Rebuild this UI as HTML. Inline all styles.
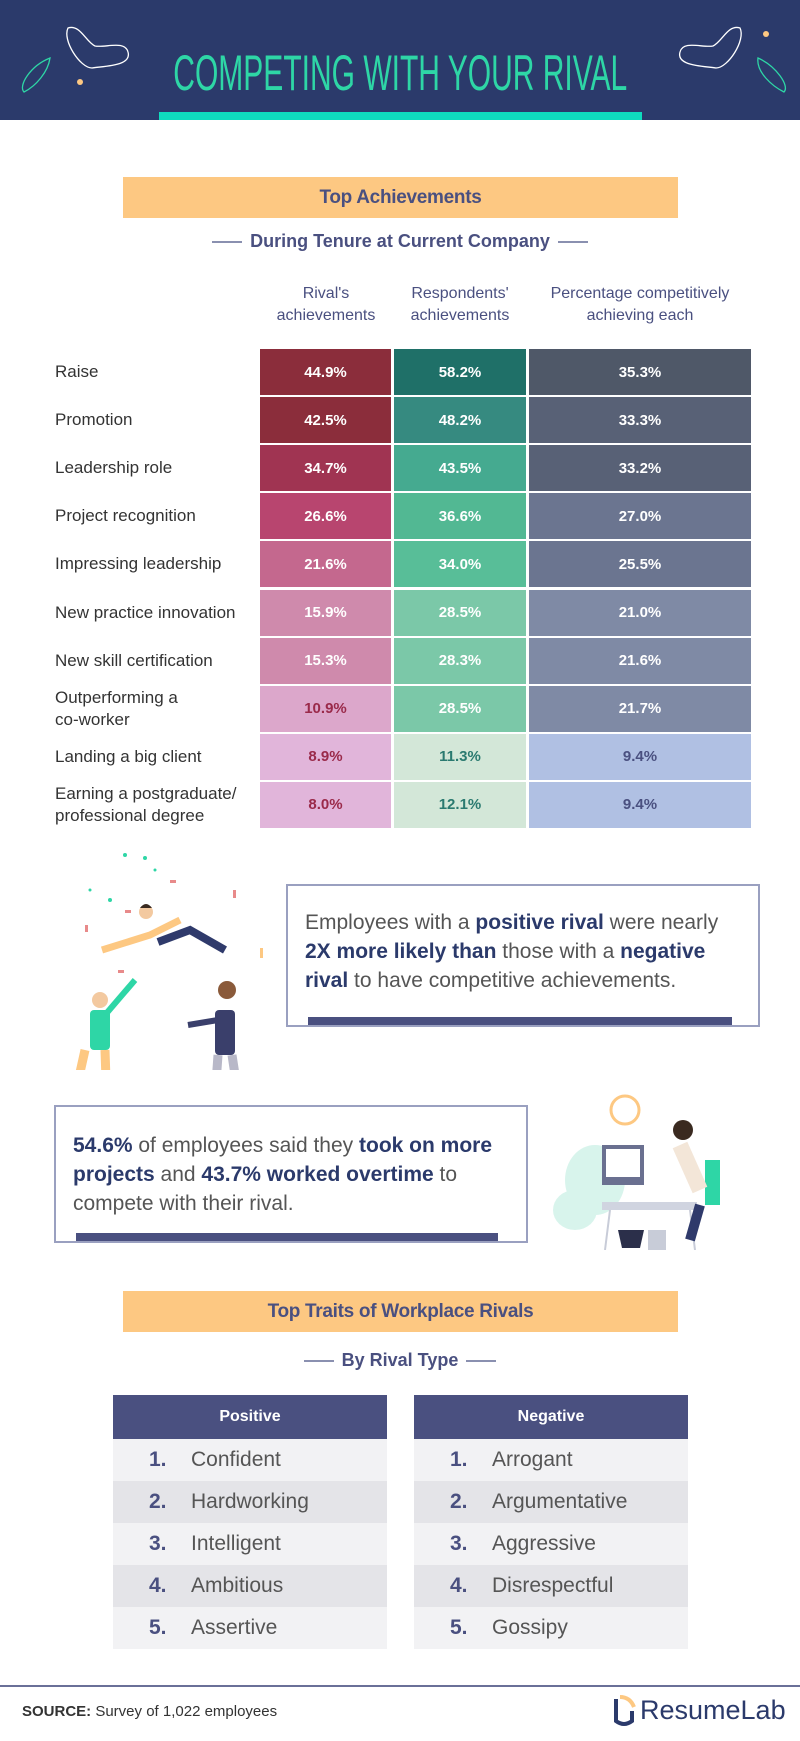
<!DOCTYPE html>
<html><head><meta charset="utf-8">
<style>
*{margin:0;padding:0;box-sizing:border-box}
body{width:800px;height:1741px;background:#fff;font-family:"Liberation Sans",sans-serif;position:relative;overflow:hidden;color:#4a4f62}
.abs{position:absolute}
.banner{background:#fdc882;color:#4a5080;font-weight:bold;font-size:19px;text-align:center;letter-spacing:-0.3px}
.sub{color:#4a5080;font-weight:bold;font-size:18px;text-align:center;width:800px;left:0}
.cell{position:absolute;display:flex;align-items:center;justify-content:center;font-weight:bold;font-size:15px;color:#fff}
.lbl{position:absolute;left:55px;font-size:17px;color:#333;line-height:22px;display:flex;align-items:center}
.colh{position:absolute;font-size:16px;color:#4a5080;text-align:center;line-height:22px}
.box{border:2px solid #9aa0c0;background:#fff}
.box p{font-size:21px;line-height:29px;color:#555}
.box b{color:#2b3a6b}
.bar{background:#4a5080;height:8px}
.th{background:#4a5080;color:#fff;font-weight:bold;font-size:16px;text-align:center;line-height:44px}
.tr{height:42px;display:flex;align-items:center;font-size:21px;color:#555}
.tr .n{width:42px;color:#4a5080;font-weight:bold;text-align:left}
</style></head><body>

<div class="abs" style="left:0;top:0;width:800px;height:120px;background:#2b3a6b"></div>
<svg class="abs" style="left:0;top:0" width="800" height="120">
<path d="M68 28 C80 24 86 42 95 46 C105 48 125 40 128 52 C132 66 105 66 92 68 C80 68 62 40 68 28Z" fill="none" stroke="#fff" stroke-width="1.3"/>
<path d="M50 58 C30 66 18 86 24 92 C36 86 48 72 50 58Z" fill="none" stroke="#2ed6a6" stroke-width="1.3"/>
<circle cx="80" cy="82" r="3" fill="#fdc882"/>
<path d="M740 28 C728 24 722 42 713 46 C703 48 683 40 680 52 C676 66 703 66 716 68 C728 68 746 40 740 28Z" fill="none" stroke="#fff" stroke-width="1.3"/>
<path d="M758 58 C776 66 790 86 784 92 C772 86 756 72 758 58Z" fill="none" stroke="#2ed6a6" stroke-width="1.3"/>
<circle cx="766" cy="34" r="3" fill="#fdc882"/>
</svg>
<div class="abs" style="left:0;top:48px;width:800px;text-align:center;color:#2ed6a6;font-size:50px;line-height:50px"><span style="display:inline-block;transform:scaleX(0.6)">COMPETING WITH YOUR RIVAL</span></div>
<div class="abs" style="left:159px;top:112px;width:483px;height:8px;background:#0fdcbe"></div>

<div class="abs banner" style="left:123px;top:177px;width:555px;height:41px;line-height:41px">Top Achievements</div>
<div class="abs sub" style="top:229px;line-height:24px">
<span style="display:inline-block;width:30px;height:2px;background:#8a90b0;vertical-align:middle;margin-right:8px"></span>During Tenure at Current Company<span style="display:inline-block;width:30px;height:2px;background:#8a90b0;vertical-align:middle;margin-left:8px"></span></div>

<div class="colh" style="left:250px;top:283px;width:152px">Rival's<br>achievements</div>
<div class="colh" style="left:390px;top:283px;width:140px">Respondents'<br>achievements</div>
<div class="colh" style="left:529px;top:283px;width:222px">Percentage competitively<br>achieving each</div>

<div id="table"></div>

<svg class="abs" style="left:40px;top:850px" width="230" height="220">
<g fill="#2ed6a6"><circle cx="85" cy="5" r="2"/><circle cx="70" cy="50" r="2"/><circle cx="115" cy="20" r="1.5"/><circle cx="50" cy="40" r="1.5"/><circle cx="105" cy="8" r="2"/></g>
<g fill="#e88a8a"><rect x="130" y="30" width="6" height="3"/><rect x="85" y="60" width="6" height="3"/><rect x="193" y="40" width="3" height="8"/><rect x="45" y="75" width="3" height="7"/><rect x="78" y="120" width="6" height="3"/></g>
<rect x="220" y="98" width="3" height="10" fill="#fdc882"/>
<path d="M62 100 L110 85 L140 70" stroke="#fdc882" stroke-width="7" fill="none"/>
<circle cx="106" cy="62" r="7" fill="#f3c9a0"/><path d="M100 58 Q106 50 112 58" fill="#3a2a20"/>
<path d="M118 92 L150 80 L185 100" stroke="#2f3a6b" stroke-width="8" fill="none"/>
<rect x="50" y="160" width="20" height="40" fill="#2ed6a6" rx="4"/>
<path d="M45 200 L25 290 M65 200 L68 290" stroke="#fdc882" stroke-width="9"/>
<circle cx="60" cy="150" r="8" fill="#f3c9a0"/>
<path d="M65 165 L95 130" stroke="#2ed6a6" stroke-width="6"/>
<rect x="175" y="160" width="20" height="45" fill="#3a3f6b" rx="4"/>
<path d="M178 205 L172 290 M192 205 L205 290" stroke="#b8b8c8" stroke-width="9"/>
<circle cx="187" cy="140" r="9" fill="#8a5a3a"/>
<path d="M178 170 L148 175" stroke="#3a3f6b" stroke-width="6"/>
</svg>

<div class="abs box" style="left:286px;top:884px;width:474px;height:143px">
<p style="position:absolute;left:17px;top:22px;width:460px">Employees with a <b>positive rival</b> were nearly<br><b>2X more likely than</b> those with a <b>negative</b><br><b>rival</b> to have competitive achievements.</p>
<div class="abs bar" style="left:20px;bottom:0;width:424px"></div>
</div>

<div class="abs box" style="left:54px;top:1105px;width:474px;height:138px">
<p style="position:absolute;left:17px;top:24px;width:460px"><b>54.6%</b> of employees said they <b>took on more</b><br><b>projects</b> and <b>43.7% worked overtime</b> to<br>compete with their rival.</p>
<div class="abs bar" style="left:20px;bottom:0;width:422px"></div>
</div>

<svg class="abs" style="left:550px;top:1090px" width="200" height="160">
<ellipse cx="45" cy="90" rx="30" ry="35" fill="#d8f4ec"/><ellipse cx="25" cy="120" rx="22" ry="20" fill="#d8f4ec"/>
<circle cx="75" cy="20" r="14" fill="#fff" stroke="#fdc882" stroke-width="3"/>
<rect x="52" y="55" width="42" height="40" fill="#6a7090"/><rect x="56" y="59" width="34" height="28" fill="#fff"/>
<rect x="52" y="112" width="95" height="8" fill="#d0d4e0"/>
<path d="M60 120 L55 160 M140 120 L145 160" stroke="#c8ccd8" stroke-width="2"/>
<path d="M68 140 L94 140 L90 158 L72 158Z" fill="#2b2f4a"/>
<rect x="98" y="140" width="18" height="20" fill="#c8ccd8"/>
<rect x="155" y="70" width="15" height="45" fill="#2ed6a6"/>
<circle cx="133" cy="40" r="10" fill="#3a2a20"/>
<path d="M130 55 L150 100" stroke="#f3e6d8" stroke-width="16"/>
<path d="M150 115 L140 150" stroke="#2f3a6b" stroke-width="10"/>
</svg>

<div class="abs banner" style="left:123px;top:1291px;width:555px;height:41px;line-height:41px">Top Traits of Workplace Rivals</div>
<div class="abs sub" style="top:1348px;line-height:24px">
<span style="display:inline-block;width:30px;height:2px;background:#8a90b0;vertical-align:middle;margin-right:8px"></span>By Rival Type<span style="display:inline-block;width:30px;height:2px;background:#8a90b0;vertical-align:middle;margin-left:8px"></span></div>

<div class="abs" style="left:113px;top:1395px;width:274px">
<div class="th">Positive</div>
<div class="tr" style="background:#f2f2f4;padding-left:36px"><span class="n">1.</span>Confident</div>
<div class="tr" style="background:#e4e4e8;padding-left:36px"><span class="n">2.</span>Hardworking</div>
<div class="tr" style="background:#f2f2f4;padding-left:36px"><span class="n">3.</span>Intelligent</div>
<div class="tr" style="background:#e4e4e8;padding-left:36px"><span class="n">4.</span>Ambitious</div>
<div class="tr" style="background:#f2f2f4;padding-left:36px"><span class="n">5.</span>Assertive</div>
</div>
<div class="abs" style="left:414px;top:1395px;width:274px">
<div class="th">Negative</div>
<div class="tr" style="background:#f2f2f4;padding-left:36px"><span class="n">1.</span>Arrogant</div>
<div class="tr" style="background:#e4e4e8;padding-left:36px"><span class="n">2.</span>Argumentative</div>
<div class="tr" style="background:#f2f2f4;padding-left:36px"><span class="n">3.</span>Aggressive</div>
<div class="tr" style="background:#e4e4e8;padding-left:36px"><span class="n">4.</span>Disrespectful</div>
<div class="tr" style="background:#f2f2f4;padding-left:36px"><span class="n">5.</span>Gossipy</div>
</div>

<div class="abs" style="left:0;top:1685px;width:800px;height:2px;background:#6a7098"></div>
<div class="abs" style="left:22px;top:1703px;font-size:15px;color:#333"><b>SOURCE:</b> Survey of 1,022 employees</div>
<div class="abs" style="left:608px;top:1693px;font-size:27px;color:#2b3a6b;display:flex;align-items:center">
<svg width="32" height="34"><path d="M8 6 L8 28 Q16 34 24 28 L24 18" stroke="#2b3a6b" stroke-width="4" fill="none"/><path d="M12 4 Q22 4 26 14" stroke="#fdc882" stroke-width="4" fill="none"/></svg>ResumeLab</div>

<script>
const categories=["Raise","Promotion","Leadership role","Project recognition","Impressing leadership","New practice innovation","New skill certification","Outperforming a co-worker","Landing a big client","Earning a postgraduate/ professional degree"];
const rivalValues=[44.9,42.5,34.7,26.6,21.6,15.9,15.3,10.9,8.9,8.0];
const respondentValues=[58.2,48.2,43.5,36.6,34.0,28.5,28.3,28.5,11.3,12.1];
const percentValues=[35.3,33.3,33.2,27.0,25.5,21.0,21.6,21.7,9.4,9.4];
const labelBreaks={"Outperforming a co-worker":"Outperforming a<br>co-worker","Earning a postgraduate/ professional degree":"Earning a postgraduate/<br>professional degree"};

const tbl=document.getElementById('table');
const top0=349, rowH=48.1;
// colour scales: threshold bins -> palette
const cols=[
 {x:260,w:131,vals:rivalValues,bins:[40,30,25,20,15,10,0],pal:["#8b2d3b","#a03452","#b8456f","#c4688e","#cf8aac","#dca7cb","#e1b5da"],darkBelow:12,dark:"#9a2a4a",name:'rival'},
 {x:394,w:132,vals:respondentValues,bins:[55,45,40,35,30,20,0],pal:["#1f7068","#368a80","#45aa90","#52b893","#58be98","#7bc8a8","#d3e7d8"],darkBelow:20,dark:"#2a7a70",name:'respondents'},
 {x:529,w:222,vals:percentValues,bins:[35,30,25,20,0],pal:["#4f5868","#586176","#6b7590","#7f8aa5","#b0c0e3"],darkBelow:20,dark:"#4a5080",name:'percentage'}
];
function yPos(i){return top0+i*rowH;}
function colorFor(c,v){for(let k=0;k<c.bins.length;k++){if(v>=c.bins[k])return c.pal[k];}return c.pal[c.pal.length-1];}
categories.forEach((cat,i)=>{
 const l=document.createElement('div');
 l.className='lbl';
 
 
 l.style.top=yPos(i)+'px';l.style.height=(rowH-2)+'px';
 l.innerHTML=labelBreaks[cat]||cat;
 tbl.appendChild(l);
 cols.forEach(c=>{
  const v=c.vals[i];
  const d=document.createElement('div');
  d.className='cell';
  
  
  d.style.left=c.x+'px';d.style.top=yPos(i)+'px';d.style.width=c.w+'px';d.style.height=(rowH-2)+'px';
  d.style.background=colorFor(c,v);
  d.style.color=v<c.darkBelow?c.dark:'#fff';
  d.textContent=v.toFixed(1)+'%';
  tbl.appendChild(d);
 });
});
</script>
</body></html>
